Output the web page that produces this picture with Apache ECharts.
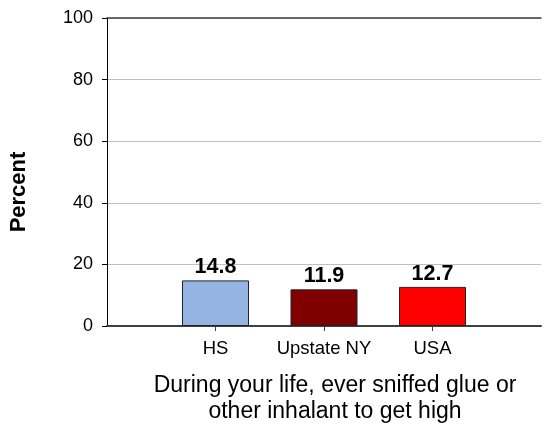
<!DOCTYPE html>
<html>
<head>
<meta charset="utf-8">
<script src="https://cdn.jsdelivr.net/npm/echarts@6/dist/echarts.min.js"></script>
<style>
  html, body { margin: 0; padding: 0; background: #ffffff; }
  #chart { width: 544px; height: 430px; }
</style>
</head>
<body>
<div id="chart"></div>
<script>
// Survey question and the three groups compared
const categories = ['HS', 'Upstate NY', 'USA'];
const percentValues = [14.8, 11.9, 12.7];
const barColors = ['#95B3E3', '#800000', '#FF0000'];
const yTicks = [0, 20, 40, 60, 80, 100];
const questionText = 'During your life, ever sniffed glue or\nother inhalant to get high';

// Pad the category axis with an empty slot at each end so the bars sit
// on evenly spaced tick marks inside the plot area.
const axisCategories = [''].concat(categories, ['']);
const barData = [null].concat(
  percentValues.map((v, i) => ({ value: v, itemStyle: { color: barColors[i] } })),
  [null]
);

const FONT = '"Liberation Sans", Arial, sans-serif';

const chart = echarts.init(document.getElementById('chart'), null, { renderer: 'canvas' });
chart.setOption({
  animation: false,
  backgroundColor: '#ffffff',
  textStyle: { fontFamily: FONT, color: '#000' },
  grid: { left: 105, top: 18, width: 444, height: 311, containLabel: false },
  xAxis: [
    {
      type: 'category',
      data: axisCategories,
      boundaryGap: false,
      position: 'bottom',
      axisLine: { show: true, lineStyle: { color: '#404040', width: 2 } },
      axisTick: {
        show: true,
        length: 5,
        inside: false,
        interval: (idx) => idx > 0 && idx < axisCategories.length - 1,
        lineStyle: { color: '#404040' }
      },
      axisLabel: { interval: 0, fontSize: 18.5, color: '#000', margin: 13, fontFamily: FONT },
      splitLine: { show: false },
      name: questionText,
      nameLocation: 'middle',
      nameGap: 47,
      nameTextStyle: {
        fontSize: 23,
        lineHeight: 26,
        color: '#000',
        fontFamily: FONT,
        align: 'center',
        padding: [0, 0, 0, 22]
      }
    },
    {
      // top border of the plot area
      type: 'category',
      data: axisCategories,
      boundaryGap: false,
      position: 'top',
      axisLine: { show: true, lineStyle: { color: '#404040', width: 1.5 } },
      axisTick: { show: false },
      axisLabel: { show: false },
      splitLine: { show: false }
    }
  ],
  yAxis: {
    type: 'value',
    min: yTicks[0],
    max: yTicks[yTicks.length - 1],
    interval: yTicks[1] - yTicks[0],
    axisLine: { show: true, lineStyle: { color: '#000', width: 1 } },
    axisTick: { show: true, length: 5, inside: false, lineStyle: { color: '#000' } },
    axisLabel: { fontSize: 18, color: '#000', margin: 14, fontFamily: FONT },
    splitLine: { show: true, lineStyle: { color: '#c0c0c0', width: 1 } },
    name: 'Percent',
    nameLocation: 'middle',
    nameRotate: 90,
    nameGap: 77,
    nameTextStyle: {
      fontSize: 22,
      fontWeight: 'bold',
      color: '#000',
      fontFamily: FONT,
      padding: [0, 40, 0, 0]
    }
  },
  series: [
    {
      type: 'bar',
      xAxisIndex: 0,
      data: barData,
      barWidth: 67,
      itemStyle: { borderColor: '#222', borderWidth: 1 },
      label: {
        show: true,
        position: 'top',
        distance: 2,
        fontSize: 21.5,
        fontWeight: 'bold',
        color: '#000',
        fontFamily: FONT,
        formatter: (p) => p.value.toFixed(1)
      }
    }
  ]
});
</script>
</body>
</html>
